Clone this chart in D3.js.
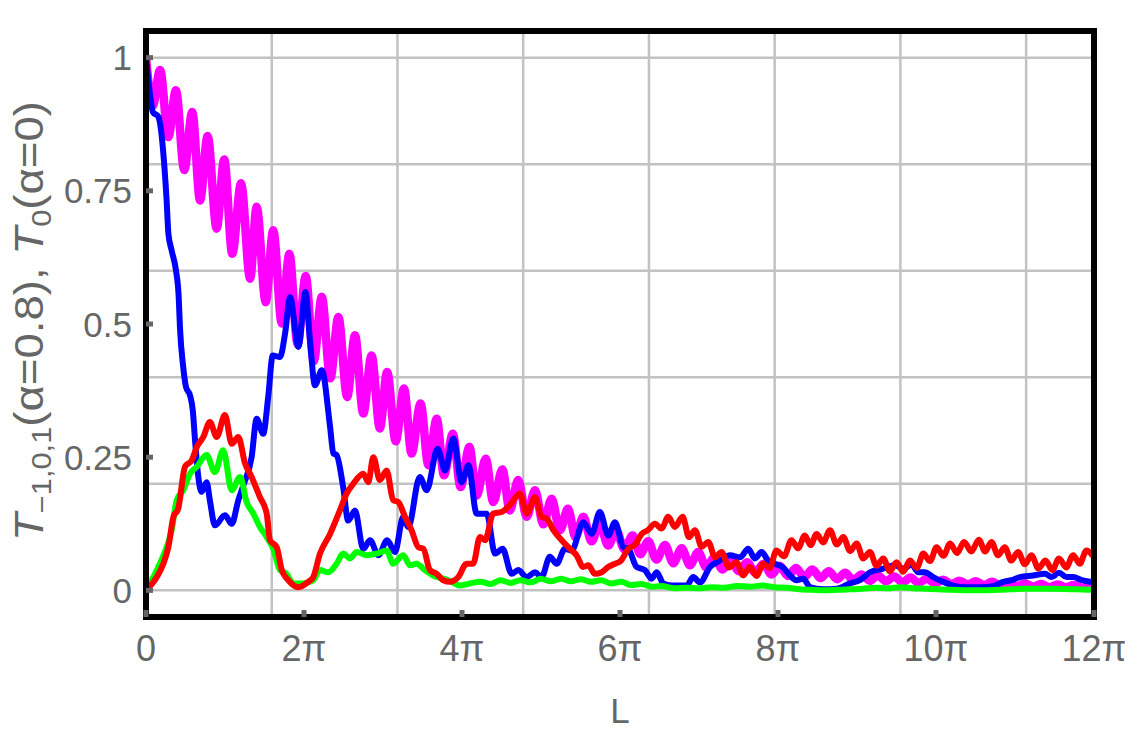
<!DOCTYPE html>
<html lang="en">
<head>
<meta charset="utf-8">
<title>Transmission vs L</title>
<script src="https://cdn.jsdelivr.net/npm/d3@7/dist/d3.min.js"></script>
<style>
  body { margin: 0; background: #fff; }
  svg text { font-family: "Liberation Sans", Arial, sans-serif; fill: #666; }
</style>
</head>
<body>
<svg id="chart"></svg>
<script>
// T0(alpha=0), magenta
var magL = [0,0.27,0.56,0.89,1.19,1.52,1.84,2.15,2.45,2.81,3.11,3.43,3.78,4.14,4.40,4.76,5.06,5.40,5.70,6.03,6.35,6.67,6.99,7.33,7.65,8.0,8.31,8.64,8.97,9.30,9.59,9.93,10.26,10.56,10.92,11.23,11.56,11.85,12.20,12.51,12.86,13.15,13.51,13.81,14.17,14.47,14.80,15.14,15.47,15.80,16.13,16.46,16.78,17.08,17.39,17.72,18.04,18.38,18.70,19.02,19.35,19.66,19.97,20.30,20.64,20.97,21.30,21.63,21.96,22.28,22.60,22.93,23.25,23.58,23.90,24.23,24.55,24.88,25.20,25.53,25.85,26.18,26.50,26.83,27.15,27.48,27.80,28.13,28.45,28.78,29.10,29.43,29.75,30.08,30.40,30.73,31.05,31.38,31.70,32.03,32.35,32.68,33.00,33.33,33.65,33.98,34.30,34.63,34.95,35.28,35.60,35.93,36.25,36.58,36.90,37.23,37.55,37.70];
var magT = [1.0,0.91,0.977,0.851,0.939,0.789,0.898,0.732,0.853,0.679,0.809,0.632,0.764,0.585,0.720,0.541,0.676,0.501,0.632,0.462,0.590,0.430,0.551,0.398,0.513,0.363,0.479,0.332,0.441,0.304,0.410,0.280,0.379,0.257,0.351,0.235,0.322,0.216,0.294,0.194,0.269,0.178,0.247,0.166,0.227,0.150,0.207,0.138,0.188,0.124,0.172,0.113,0.153,0.100,0.138,0.092,0.125,0.084,0.113,0.077,0.103,0.068,0.092,0.058,0.085,0.051,0.079,0.047,0.072,0.043,0.062,0.039,0.057,0.036,0.053,0.033,0.050,0.030,0.046,0.027,0.042,0.025,0.039,0.023,0.036,0.021,0.033,0.019,0.030,0.018,0.028,0.017,0.026,0.015,0.024,0.014,0.022,0.013,0.020,0.012,0.018,0.011,0.017,0.010,0.016,0.009,0.015,0.008,0.013,0.007,0.012,0.006,0.011,0.006,0.010,0.005,0.009,0.008];

// blue
var bluL = [0,0.19,0.27,0.49,0.58,0.69,0.82,0.89,1.02,1.19,1.30,1.35,1.48,1.59,1.75,1.86,1.95,2.08,2.21,2.41,2.54,2.74,3.14,3.41,3.67,3.87,4.2,4.4,4.66,4.86,5.04,5.33,5.53,5.73,6.06,6.34,6.52,6.72,6.99,7.32,7.45,7.58,7.84,8.04,8.31,8.64,8.91,9.24,9.59,9.90,10.23,10.43,10.89,11.16,11.60,11.89,12.22,12.55,12.82,13.15,13.55,13.88,14.18,14.54,14.80,15.14,15.47,15.73,16.06,16.33,16.66,16.93,17.39,17.72,18.05,18.38,18.65,18.98,19.18,19.51,19.84,20.11,20.31,20.57,20.97,21.5,21.76,22.03,22.43,22.82,23.22,23.62,23.95,24.21,24.48,24.74,25.01,25.33,25.61,25.87,26.14,26.4,26.93,27.46,27.99,28.39,28.79,29.32,29.78,30.11,30.45,30.71,30.97,31.3,31.7,32.1,32.63,33.16,33.69,34.09,34.42,34.75,35.28,35.75,36.01,36.31,36.61,36.87,37.21,37.70];
var bluT = [1.0,0.92,0.898,0.889,0.87,0.82,0.732,0.67,0.638,0.601,0.551,0.494,0.419,0.382,0.366,0.338,0.282,0.213,0.185,0.203,0.169,0.122,0.141,0.125,0.169,0.197,0.25,0.322,0.294,0.363,0.441,0.438,0.482,0.55,0.457,0.56,0.47,0.385,0.413,0.307,0.257,0.254,0.194,0.131,0.150,0.078,0.094,0.066,0.094,0.072,0.138,0.119,0.213,0.188,0.266,0.225,0.285,0.203,0.235,0.144,0.144,0.069,0.078,0.031,0.038,0.025,0.034,0.025,0.063,0.05,0.078,0.075,0.128,0.106,0.147,0.103,0.128,0.081,0.078,0.044,0.038,0.022,0.034,0.013,0.009,0.009,0.025,0.015,0.044,0.056,0.066,0.062,0.078,0.06,0.072,0.056,0.05,0.043,0.028,0.019,0.022,0.006,0.002,0.003,0.013,0.019,0.034,0.041,0.047,0.041,0.048,0.034,0.034,0.025,0.016,0.009,0.006,0.006,0.008,0.016,0.019,0.025,0.028,0.031,0.025,0.033,0.025,0.025,0.019,0.015];

// green
var grnL = [0,0.49,0.82,1.02,1.22,1.48,1.75,2.02,2.41,2.74,3.07,3.41,3.74,4.0,4.27,4.53,4.8,5.06,5.33,5.59,5.86,6.25,6.65,6.92,7.25,7.58,7.84,8.11,8.38,8.78,9.17,9.57,9.83,10.23,10.5,10.76,11.09,11.42,11.82,12.15,12.48,12.88,13.3,13.7,14.1,14.5,14.9,15.3,15.7,16.1,16.5,16.9,17.3,17.7,18.1,18.5,18.9,19.3,19.7,20.1,20.5,21.0,21.5,22.0,22.5,23.0,23.5,24.0,24.5,25.0,25.5,26.0,26.5,27.0,27.5,28.0,28.5,29.0,29.5,30.0,30.5,31.0,31.5,32.0,33.0,34.0,35.0,36.0,37.0,37.7];
var grnT = [0,0.044,0.081,0.113,0.169,0.188,0.219,0.232,0.254,0.222,0.263,0.188,0.213,0.166,0.144,0.119,0.1,0.078,0.038,0.031,0.013,0.013,0.019,0.038,0.034,0.05,0.069,0.06,0.072,0.066,0.069,0.075,0.05,0.066,0.047,0.05,0.038,0.028,0.022,0.016,0.009,0.013,0.016,0.012,0.019,0.014,0.019,0.015,0.022,0.017,0.022,0.017,0.021,0.016,0.019,0.013,0.016,0.010,0.012,0.007,0.008,0.004,0.005,0.004,0.006,0.005,0.008,0.007,0.009,0.006,0.005,0.002,0.001,0.0,0.001,0.002,0.003,0.005,0.004,0.006,0.004,0.003,0.002,0.001,0.0,0.001,0.003,0.003,0.002,0.001];

// red
var redL = [0,0.43,0.69,0.89,1.09,1.28,1.55,1.82,2.02,2.28,2.54,2.81,3.14,3.41,3.67,3.94,4.2,4.53,4.8,4.93,5.2,5.4,5.66,6.06,6.45,6.65,6.92,7.32,7.71,7.98,8.24,8.64,8.84,9.04,9.3,9.57,9.83,10.03,10.3,10.56,10.83,11.03,11.29,11.56,11.82,12.09,12.42,12.75,13.01,13.28,13.48,13.81,14.14,14.47,14.87,15.14,15.47,15.73,15.93,16.2,16.53,16.86,17.12,17.39,17.59,17.85,18.12,18.38,18.65,18.89,19.18,19.44,19.71,19.96,20.24,20.5,20.77,21.03,21.34,21.59,21.83,22.1,22.36,22.63,22.89,23.18,23.48,23.75,24.01,24.28,24.54,24.8,25.07,25.37,25.67,25.93,26.2,26.43,26.67,26.93,27.2,27.47,27.73,28.0,28.26,28.52,28.79,29.05,29.32,29.58,29.85,30.11,30.38,30.65,30.91,31.18,31.44,31.71,31.98,32.25,32.53,32.82,33.12,33.37,33.62,33.88,34.15,34.41,34.68,34.95,35.21,35.49,35.77,36.04,36.31,36.59,36.87,37.13,37.4,37.7];
var redT = [0,0.025,0.05,0.081,0.138,0.153,0.232,0.244,0.269,0.288,0.316,0.288,0.329,0.275,0.288,0.238,0.213,0.175,0.144,0.094,0.081,0.038,0.019,0.006,0.016,0.025,0.069,0.106,0.15,0.182,0.2,0.219,0.203,0.25,0.207,0.225,0.169,0.166,0.138,0.113,0.081,0.078,0.038,0.031,0.019,0.016,0.025,0.05,0.05,0.1,0.094,0.144,0.147,0.16,0.182,0.144,0.175,0.138,0.135,0.113,0.094,0.078,0.066,0.044,0.047,0.031,0.034,0.044,0.05,0.056,0.078,0.085,0.106,0.113,0.125,0.116,0.138,0.119,0.138,0.100,0.113,0.082,0.091,0.062,0.072,0.043,0.053,0.028,0.044,0.027,0.05,0.042,0.075,0.064,0.094,0.079,0.103,0.085,0.106,0.09,0.113,0.086,0.1,0.074,0.088,0.06,0.072,0.046,0.06,0.036,0.053,0.035,0.056,0.042,0.069,0.055,0.081,0.065,0.088,0.07,0.091,0.073,0.095,0.073,0.091,0.066,0.081,0.056,0.072,0.049,0.066,0.041,0.056,0.038,0.06,0.043,0.066,0.05,0.075,0.062];

var xTickVals = [0, 2, 4, 6, 8, 10, 12];          // multiples of pi
var xTickLabels = ["0", "2\u03c0", "4\u03c0", "6\u03c0", "8\u03c0", "10\u03c0", "12\u03c0"];
var yTickVals = [0, 0.25, 0.5, 0.75, 1];
var yTickLabels = ["0", "0.25", "0.5", "0.75", "1"];
var xGrid = [5, 10, 15, 20, 25, 30, 35];
var yGrid = [0, 0.2, 0.4, 0.6, 0.8, 1.0];

(function () {
  var width = 1125, height = 732;
  var pl = 146, pr = 1094, pt = 31, pb = 617;

  var svg = d3.select('#chart').attr('width', width).attr('height', height);

  var x = d3.scaleLinear().domain([0, 12 * Math.PI]).range([pl, pr]);
  var y = d3.scaleLinear().domain([-0.05, 1.05]).range([pb, pt]);

  svg.append('defs').append('clipPath').attr('id', 'clip')
    .append('rect').attr('x', pl).attr('y', pt)
    .attr('width', pr - pl).attr('height', pb - pt);

  // grid
  var grid = svg.append('g');
  grid.selectAll('.gx').data(xGrid).enter().append('line')
    .attr('x1', function(d) { return x(d); }).attr('x2', function(d) { return x(d); })
    .attr('y1', pt).attr('y2', pb)
    .attr('stroke', '#c2c2c2').attr('stroke-width', 2.5);
  grid.selectAll('.gy').data(yGrid).enter().append('line')
    .attr('y1', function(d) { return y(d); }).attr('y2', function(d) { return y(d); })
    .attr('x1', pl).attr('x2', pr)
    .attr('stroke', '#c2c2c2').attr('stroke-width', 2.5);

  // curves
  var series = [
    { L: magL, T: magT, color: '#ff00ff', w: 8.5 },
    { L: bluL, T: bluT, color: '#0000ff', w: 6 },
    { L: grnL, T: grnT, color: '#00ff00', w: 6 },
    { L: redL, T: redT, color: '#ff0000', w: 6 }
  ];

  var line = d3.line()
    .x(function(d) { return x(d[0]); })
    .y(function(d) { return y(d[1]); })
    .curve(d3.curveMonotoneX);

  var curves = svg.append('g').attr('clip-path', 'url(#clip)');
  series.forEach(function(s) {
    var pts = s.L.map(function(l, i) { return [l, s.T[i]]; });
    curves.append('path').datum(pts)
      .attr('d', line)
      .attr('fill', 'none')
      .attr('stroke', s.color)
      .attr('stroke-width', s.w)
      .attr('stroke-linejoin', 'round')
      .attr('stroke-linecap', 'round');
  });

  // frame
  svg.append('rect')
    .attr('x', pl).attr('y', pt)
    .attr('width', pr - pl).attr('height', pb - pt)
    .attr('fill', 'none').attr('stroke', '#000').attr('stroke-width', 6);

  // ticks
  svg.selectAll('.ytick').data(yTickVals).enter().append('rect')
    .attr('x', pl).attr('y', function(d) { return y(d) - 2.5; })
    .attr('width', 7).attr('height', 5).attr('fill', '#666');
  svg.selectAll('.xtick').data(xTickVals).enter().append('rect')
    .attr('x', function(d) { return x(d * Math.PI) - 2.5; }).attr('y', pb - 7)
    .attr('width', 5).attr('height', 7).attr('fill', '#666');

  // tick labels
  svg.selectAll('.ylab').data(yTickVals).enter().append('text')
    .attr('x', 132).attr('y', function(d) { return y(d); })
    .attr('dy', '0.36em')
    .attr('text-anchor', 'end')
    .attr('font-size', 35)
    .text(function(d, i) { return yTickLabels[i]; });
  svg.selectAll('.xlab').data(xTickVals).enter().append('text')
    .attr('x', function(d) { return x(d * Math.PI); }).attr('y', 648)
    .attr('dy', '0.36em')
    .attr('text-anchor', 'middle')
    .attr('font-size', 36)
    .text(function(d, i) { return xTickLabels[i]; });

  // axis titles
  svg.append('text')
    .attr('x', (pl + pr) / 2).attr('y', 710)
    .attr('dy', '0.36em').attr('text-anchor', 'middle')
    .attr('font-size', 35).text('L');

  var yt = svg.append('text')
    .attr('transform', 'translate(43,321) rotate(-90)')
    .attr('text-anchor', 'middle')
    .attr('font-size', 40)
    .attr('textLength', 440)
    .attr('lengthAdjust', 'spacingAndGlyphs');
  yt.append('tspan').attr('font-style', 'italic').text('T');
  yt.append('tspan').attr('font-size', 27).attr('dy', 8).text('\u22121,0,1');
  yt.append('tspan').attr('dy', -8).text('(\u03b1=0.8), ');
  yt.append('tspan').attr('font-style', 'italic').text('T');
  yt.append('tspan').attr('font-size', 27).attr('dy', 8).text('0');
  yt.append('tspan').attr('dy', -8).text('(\u03b1=0)');
})();
</script>
</body>
</html>
